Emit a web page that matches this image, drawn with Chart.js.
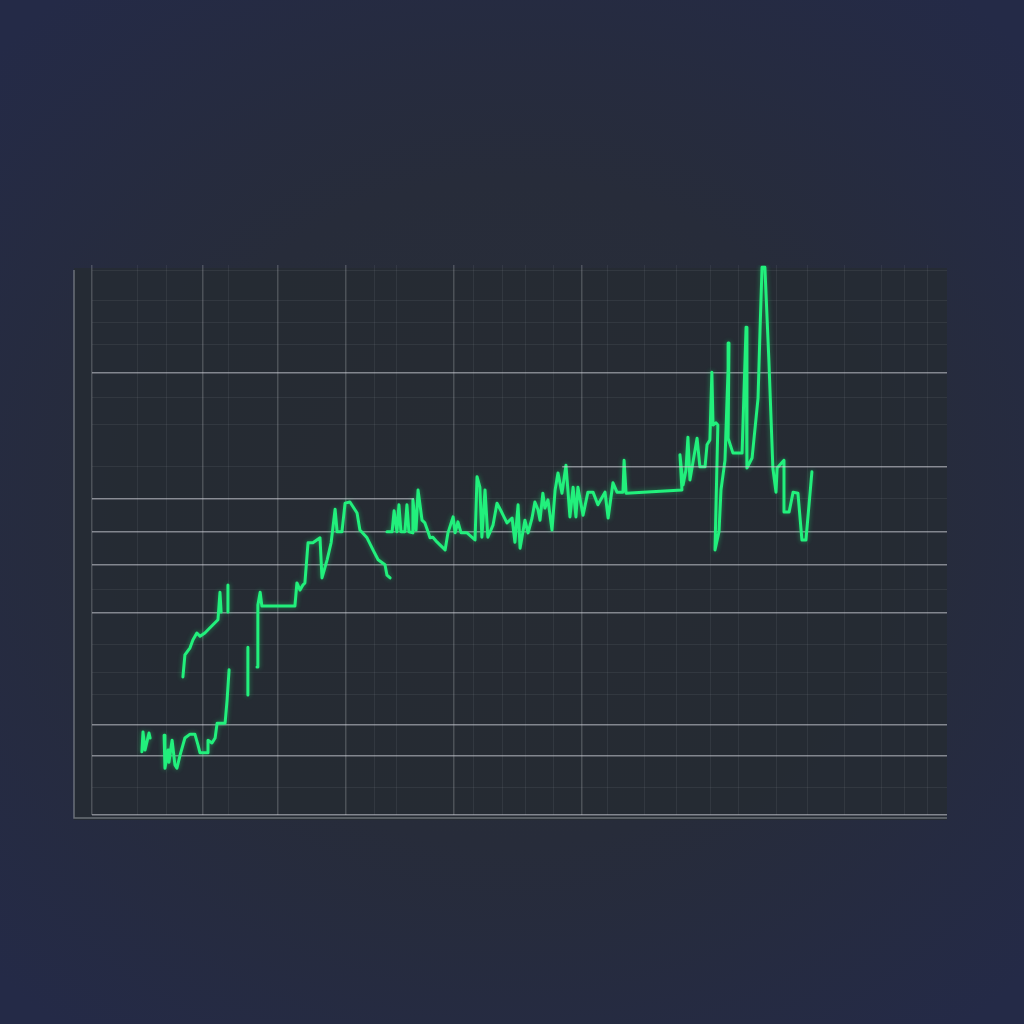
<!DOCTYPE html>
<html>
<head>
<meta charset="utf-8">
<script src="https://cdn.jsdelivr.net/npm/chart.js@4"></script>
<style>
  html, body { margin: 0; padding: 0; }
  body {
    width: 1024px; height: 1024px; overflow: hidden;
    background: radial-gradient(ellipse 70% 65% at 50% 50%, #292e37 0%, #272c3a 50%, #242a47 100%);
  }
  #wrap { position: absolute; left: 0; top: 0; width: 1024px; height: 1024px; }
</style>
</head>
<body>
<div id="wrap"><canvas id="priceChart" width="1024" height="1024"></canvas></div>
<script>
// x runs 0..300, y runs 0..100 (no labels are shown in the picture)
const lineX = [
  17.5, 17.9, 18.6, 20.0, 20.4, 20.4,
  25.3, 25.6, 26.7, 27.0, 28.1, 29.1, 29.8, 30.9, 32.6, 34.4, 36.1, 37.2, 37.9, 40.4, 40.7, 42.1, 43.2, 43.9, 46.7, 47.4, 48.1, 48.1,
  31.9, 32.6, 34.4, 35.4, 36.8, 37.9, 39.6, 42.1, 44.2, 44.9, 45.3, 45.3, 47.7, 47.7, 47.7,
  54.7, 54.7, 54.7, 57.9, 58.2, 59.0, 59.6, 71.2, 71.9, 73.0, 74.0, 74.7, 75.8, 77.5, 80.0, 80.7, 82.5, 83.9, 85.3, 86.0, 87.7, 88.8, 90.5, 93.0, 94.0, 96.5, 98.6, 100.4, 102.8, 103.5, 104.6, 104.6,
  103.5, 105.3, 106.0, 107.0, 107.7, 108.4, 109.8, 110.5, 111.2, 112.6, 112.6, 113.7, 114.4, 115.8, 116.8, 117.9, 118.6, 119.6, 121.1, 122.1, 123.9, 124.9, 126.7, 127.4, 128.4, 129.5, 131.6, 134.4, 135.1, 136.1, 136.8, 137.9, 138.9, 140.7, 142.1, 143.9, 145.6, 147.4, 148.4, 149.5, 150.2, 151.9, 153.0, 154.4, 155.4, 156.5, 157.2, 158.2, 158.9, 160.0, 161.4, 162.5, 163.5, 164.9, 166.3, 167.7, 168.8, 169.8, 170.5, 172.3, 174.0, 175.8, 177.5, 180.0, 181.1, 182.8, 184.2, 186.3, 186.7, 187.4, 207.0, 206.3, 207.4, 208.4, 209.1, 209.8, 212.3, 213.3, 215.1, 215.8, 216.8, 217.5, 217.9, 218.9, 219.6, 218.6, 220.0, 220.7, 222.1, 223.5, 223.2, 224.9, 228.1, 229.5, 229.8, 231.6, 233.7, 234.4, 235.1, 236.1, 237.5, 238.9, 240.0, 240.4, 242.8, 242.8, 244.6, 246.0, 247.7, 249.1, 250.5, 252.6
];
const lineY = [
  11.5, 15.1, 11.8, 14.9, 14.0, null,
  14.5, 8.5, 11.8, 9.6, 13.6, 9.1, 8.5, 10.9, 14.0, 14.7, 14.7, 12.7, 11.3, 11.3, 13.6, 13.1, 14.0, 16.7, 16.7, 20.9, 26.4, null,
  25.1, 29.1, 30.4, 31.8, 33.1, 32.5, 33.1, 34.4, 35.5, 40.5, 36.9, null, 41.8, 36.9, null,
  30.5, 21.8, null, 26.9, 38.2, 40.5, 38.0, 38.0, 42.2, 40.9, 41.8, 42.2, 49.5, 49.5, 50.4, 43.1, 46.4, 49.5, 55.6, 51.5, 51.5, 56.7, 56.9, 54.9, 51.8, 50.4, 48.2, 46.4, 45.5, 43.6, 43.1, null,
  51.5, 51.5, 55.3, 51.5, 56.4, 51.5, 51.5, 56.4, 51.5, 51.3, 57.3, 51.8, 59.1, 53.6, 53.1, 51.5, 50.4, 50.5, 49.6, 49.1, 48.2, 51.3, 54.2, 51.3, 53.3, 51.3, 51.3, 50.0, 61.5, 59.6, 50.5, 59.1, 50.5, 52.7, 56.7, 54.9, 53.1, 54.0, 49.6, 56.4, 48.5, 53.6, 51.3, 54.0, 56.9, 55.5, 53.6, 58.5, 55.8, 57.3, 51.8, 59.1, 62.2, 58.5, 63.6, 54.2, 59.6, 54.2, 59.6, 54.5, 58.7, 58.7, 56.4, 58.7, 54.0, 60.4, 58.7, 58.7, 64.5, 58.5, 59.1, 65.5, 60.0, 62.7, 68.7, 60.9, 68.5, 63.3, 63.3, 67.3, 68.2, 80.5, 70.9, 71.3, 70.9, 48.2, 51.5, 59.1, 64.5, 85.8, 68.5, 65.8, 65.8, 88.7, 63.1, 64.9, 75.8, 88.2, 99.6, 99.6, 82.7, 63.1, 58.7, 63.1, 64.5, 55.1, 55.1, 58.7, 58.5, 50.0, 50.0, 62.4
];

// grid positions and the brighter guide lines
const xGrid = [0, 16, 26, 39, 48, 65, 89, 99, 107, 127, 134, 144, 152, 162, 172, 181, 194, 205, 217, 227, 240, 251, 264, 277, 285, 293];
const xBright = [0, 39, 65, 89, 127, 172];
const yGrid = [0, 5, 10.7, 16.5, 22, 26, 31, 36.7, 41, 45.5, 51.5, 57.5, 63.3, 71, 76, 80.5, 85.6, 89.5, 93.6, 99];
const yBright = [0, 10.7, 16.5, 36.7, 45.5, 51.5, 80.5];
// partial guide lines: [y, xStart, xEnd]
const guideLeft = [57.5, 0, 113];
const guideRight = [63.3, 165, 300];

const faint = 'rgba(200, 205, 215, 0.08)';
const bright = 'rgba(210, 212, 218, 0.55)';

const frame = {
    id: 'frame',
    beforeDraw(chart) {
        const a = chart.chartArea, c = chart.ctx;
        c.save();
        c.fillStyle = 'rgba(38, 43, 51, 0.85)';
        c.fillRect(a.left - 18, a.top + 3, a.right - a.left + 18, a.bottom - a.top + 2);
        c.strokeStyle = 'rgba(190, 195, 200, 0.45)';
        c.lineWidth = 1.5;
        c.beginPath();
        c.moveTo(a.left - 18, a.top + 5);
        c.lineTo(a.left - 18, a.bottom + 3);
        c.lineTo(a.right, a.bottom + 3);
        c.stroke();
        c.restore();
    },
    beforeDatasetDraw(chart, args) {
        if (args.index === 2) {
            chart.ctx.save();
            chart.ctx.shadowColor = 'rgba(30, 240, 120, 0.45)';
            chart.ctx.shadowBlur = 5;
        }
    },
    afterDatasetDraw(chart, args) {
        if (args.index === 2) chart.ctx.restore();
    }
};

document.addEventListener('DOMContentLoaded', () => {
    const ctx = document.getElementById('priceChart').getContext('2d');
    const points = lineX.map((x, i) => ({ x: x, y: lineY[i] }));

    new Chart(ctx, {
        type: 'line',
        data: {
            datasets: [
                {
                    data: [{ x: guideLeft[1], y: guideLeft[0] }, { x: guideLeft[2], y: guideLeft[0] }],
                    borderColor: bright,
                    borderWidth: 1.5,
                    pointRadius: 0
                },
                {
                    data: [{ x: guideRight[1], y: guideRight[0] }, { x: guideRight[2], y: guideRight[0] }],
                    borderColor: bright,
                    borderWidth: 1.5,
                    pointRadius: 0
                },
                {
                    data: points,
                    borderColor: '#22f07c',
                    borderWidth: 3,
                    pointRadius: 0,
                    tension: 0,
                    spanGaps: false,
                    borderJoinStyle: 'round',
                    borderCapStyle: 'round'
                }
            ]
        },
        options: {
            responsive: false,
            animation: false,
            layout: { padding: { left: 92, top: 265, right: 77, bottom: 209 } },
            scales: {
                x: {
                    type: 'linear',
                    min: 0,
                    max: 300,
                    afterBuildTicks: (scale) => { scale.ticks = xGrid.map(v => ({ value: v })); },
                    ticks: { display: false },
                    border: { display: false },
                    grid: {
                        drawTicks: false,
                        color: (c) => xBright.includes(c.tick && c.tick.value) ? 'rgba(200, 203, 210, 0.24)' : faint,
                        lineWidth: (c) => xBright.includes(c.tick && c.tick.value) ? 1.5 : 1
                    }
                },
                y: {
                    min: 0,
                    max: 100,
                    afterBuildTicks: (scale) => { scale.ticks = yGrid.map(v => ({ value: v })); },
                    ticks: { display: false },
                    border: { display: false },
                    grid: {
                        drawTicks: false,
                        color: (c) => yBright.includes(c.tick && c.tick.value) ? bright : faint,
                        lineWidth: (c) => yBright.includes(c.tick && c.tick.value) ? 1.5 : 1
                    }
                }
            },
            plugins: {
                legend: { display: false },
                tooltip: { enabled: false }
            }
        },
        plugins: [frame]
    });
});
</script>
</body>
</html>
